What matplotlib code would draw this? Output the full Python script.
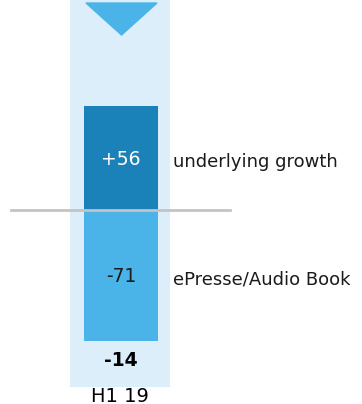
import matplotlib
matplotlib.use('Agg')
import matplotlib.pyplot as plt
from matplotlib.patches import Polygon

plt.rcParams['font.family'] = ['DejaVu Sans']

period = "H1 19"
components = ["underlying growth", "ePresse/Audio Book"]
values = [56, -71]
value_labels = ["+56", "-71"]
total_label = "-14"

dark = "#1a82b8"
light = "#4ab4e8"
bg = "#dbeefa"

fig = plt.figure(figsize=(3.62, 4.04), dpi=100)
ax = fig.add_axes([0, 0, 1, 1])
# x in pixels, y in data units (about 1.85 px per unit, zero at 210 px from top)
ppu = 1.85
ax.set_xlim(0, 362)
ax.set_ylim(-194 / ppu, 210 / ppu)
ax.axis('off')

top = 210 / ppu
# background column
ax.bar(120, top - (-177 / ppu), bottom=-177 / ppu, width=100, color=bg, zorder=0)

# triangle marker at the top
tri = Polygon([(86, top - 3 / ppu), (157, top - 3 / ppu), (121.5, top - 35 / ppu)],
              closed=True, color=light, zorder=2)
ax.add_patch(tri)

# bars both start from zero
ax.bar(121, values[0], bottom=0, width=74, color=dark, zorder=1)
ax.bar(121, values[1], bottom=0, width=74, color=light, zorder=1)

ax.plot([11, 230], [0, 0], color="#c4c4c4", lw=2, zorder=3)

ax.text(121, values[0] / 2 - 1 / ppu, value_labels[0], color="white", fontsize=13.5,
        ha='center', va='center', zorder=4)
ax.text(121, values[1] / 2 - 1 / ppu, value_labels[1], color="#1a1a1a", fontsize=13.5,
        ha='center', va='center', zorder=4)
# category labels placed on their baseline
ax.text(173, values[0] / 2 - 9 / ppu, components[0], color="#1a1a1a", fontsize=13,
        ha='left', va='baseline')
ax.text(173, values[1] / 2 - 9 / ppu, components[1], color="#1a1a1a", fontsize=13,
        ha='left', va='baseline')

ax.text(121, -150 / ppu, total_label, color="black", fontsize=13.5, fontweight='bold',
        ha='center', va='center')
ax.text(120, -186 / ppu, period, color="black", fontsize=14,
        ha='center', va='center')

fig.savefig('out.png', dpi=100)
